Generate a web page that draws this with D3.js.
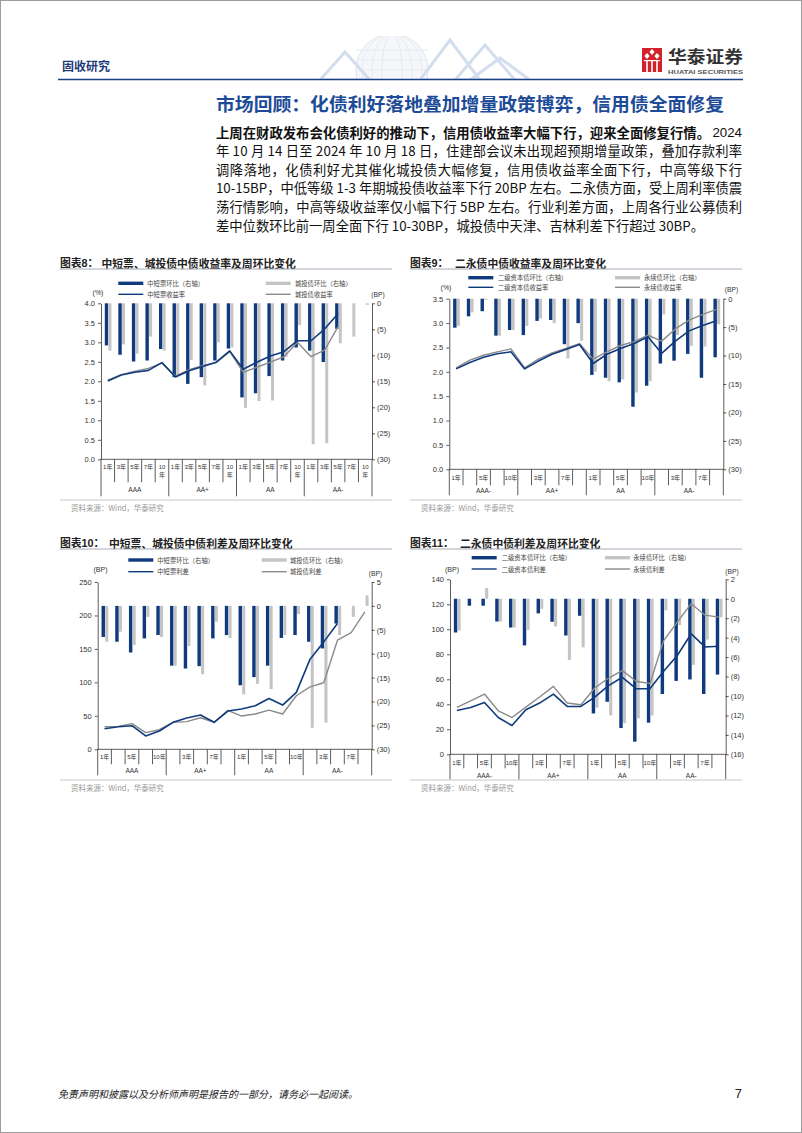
<!DOCTYPE html>
<html><head><meta charset="utf-8">
<script src="https://cdn.jsdelivr.net/npm/d3@7"></script>
<style>body{margin:0;background:#fff}svg{display:block}</style>
</head><body>
<svg id="page" width="802" height="1133"></svg>
<script>
// ---------------- DATA ----------------
const tenors = ["1年","3年","5年","7年","10年"];
const groups8 = ["AAA","AA+","AA","AA-"];
const groups9 = ["AAA-","AA+","AA","AA-"];
const groups10 = ["AAA","AA+","AA","AA-"];
const groups11 = ["AAA-","AA+","AA","AA-"];

// Chart 8: 中短票、城投债中债收益率(%) 及周环比(BP)
const c8_mtnChg   = [-8.1,-9.9,-11.2,-11.0,-8.8, -14.2,-15.5,-14.2,-11.0,-8.7, -18.1,-17.3,-14.0,-11.0,-8.5, -9.1,-11.3,-4.9,null,null];
const c8_ctChg    = [-9.1,-7.9,-9.7,-6.4,-9.1, -13.8,-10.9,-15.8,-7.5,-8.5, -20.1,-18.8,-18.7,-10.3,-4.2, -27.1,-26.9,-7.7,-6.4,-0.3];
const c8_mtnYield = [2.01,2.16,2.23,2.28,2.48, 2.11,2.27,2.38,2.49,2.78, 2.31,2.49,2.65,2.76,3.04, 3.04,3.34,3.74,null,null];
const c8_ctYield  = [2.03,2.17,2.26,2.33,2.47, 2.13,2.30,2.40,2.48,2.76, 2.23,2.36,2.49,2.63,3.00, 2.63,2.80,3.40,null,null];

// Chart 9: 二永债中债收益率(%) 及周环比(BP)
const c9_capChg   = [-5.1,-3.1,-2.2,-6.5,-5.5, -6.4,-3.9,-3.75,-8.0,-4.3, -13.4,-13.9,-14.7,-19.0,-15.3, -11.4,-10.9,-9.7,-13.9,-10.3];
const c9_perpChg  = [-4.8,-2.4,-0.2,-6.5,-5.5, -4.8,-3.5,-4.3,-10.5,-7.4, -12.8,-14.5,-14.2,-16.5,-14.5, -2.75,-6.4,-8.3,-8.4,-4.5];
const c9_capYield = [2.06,2.19,2.30,2.37,2.41, 2.06,2.22,2.36,2.46,2.56, 2.17,2.36,2.48,2.58,2.72, 2.38,2.63,2.84,2.95,3.05];
const c9_perpYield= [2.08,2.24,2.34,2.41,2.47, 2.08,2.26,2.39,2.48,2.58, 2.26,2.41,2.54,2.62,2.75, 2.63,2.88,3.06,3.18,3.28];

// Chart 10: 中短票、城投债中债利差(BP) 及周环比(BP)
const c10_mtnChg    = [-6.5,-7.5,-9.75,-6.8,-6.1, -12.5,-13.1,-12.6,-6.8,-6.1, -16.6,-14.9,-12.5,-6.7,-6.1, -7.5,-8.9,-3.7,null,null];
const c10_ctChg     = [-7.5,-5.4,-8.2,-2.3,-6.5, -12.5,-8.4,-14.3,-3.3,-6.7, -18.5,-16.3,-17.4,-6.1,-1.7, -25.5,-24.4,-6.1,-2.3,2.2];
const c10_mtnSpread = [30.8,33.8,35.3,19.9,27.3, 40.3,46.7,51.2,40.3,57.2, 60.1,65.1,76.0,66.1,85.0, 134.7,160.5,187.9,null,null];
const c10_ctSpread  = [33.8,34.3,38.3,24.9,29.3, 40.3,41.3,47.2,40.3,58.2, 49.7,52.7,58.6,52.7,80.0, 93.4,99.4,163.0,174.5,205.3];

// Chart 11: 二永债中债利差(BP) 及周环比(BP)
const c11_capChg     = [-3.47,-0.72,-0.72,-2.34,-2.96, -4.8,-1.5,-2.37,-3.78,-1.75, -11.8,-10.6,-13.3,-14.7,-12.75, -9.8,-8.45,-8.3,-9.8,-7.8];
const c11_perpChg    = [-3.26,0,1.1,-2.34,-2.96, -3.2,-1.03,-2.85,-6.3,-5.0, -11.2,-12.0,-12.8,-12.3,-12.0, -1.2,-2.7,-6.8,-4.2,-1.9];
const c11_capSpread  = [35.1,37.5,41.5,29.4,23.0, 35.6,41.0,48.2,38.3,38.3, 45.8,54.9,61.6,52.5,52.5, 66.4,79.2,96.4,85.9,86.4];
const c11_perpSpread = [37.5,42.8,48.2,34.8,29.4, 37.7,45.8,54.3,41.0,39.6, 53.0,61.0,66.9,58.4,56.5, 91.0,106.0,120.5,111.3,109.7];

// Tick labels
const ticks8L = [0,0.5,1,1.5,2,2.5,3,3.5,4];
const ticks8R = [0,-5,-10,-15,-20,-25,-30];
const ticks9L = [0,0.5,1,1.5,2,2.5,3,3.5];
const ticks9R = [0,-5,-10,-15,-20,-25,-30];
const ticks10L = [0,50,100,150,200,250];
const ticks10R = [5,0,-5,-10,-15,-20,-25,-30];
const ticks11L = [0,20,40,60,80,100,120,140];
const ticks11R = [2,0,-2,-4,-6,-8,-10,-12,-14,-16];

// ---------------- STYLE ----------------
const svg = d3.select("#page");
const LAT = "'Liberation Sans', Arial, 'Noto Sans CJK SC', sans-serif";
const CJK = "'Noto Sans CJK SC', 'Liberation Sans', sans-serif";
const NAVY = "#0f3b7e", GRAYBAR = "#c4c4c4", GRAYLINE = "#8a8a8a", AXIS = "#333";
const fmtParen = v => v < 0 ? "(" + (-v) + ")" : String(v);

// page frame
svg.append("rect").attr("x",0.5).attr("y",0.5).attr("width",801).attr("height",1132)
  .attr("fill","#fff").attr("stroke","#9c9c9c");

// ---------------- HEADER ----------------
const deco = svg.append("g").attr("opacity",0.55);
deco.append("clipPath").attr("id","decoClip").append("rect").attr("x",300).attr("y",36).attr("width",230).attr("height",43);
const dg = deco.append("g").attr("clip-path","url(#decoClip)");
dg.append("circle").attr("cx",392).attr("cy",70).attr("r",36).attr("fill","#eef2f7").attr("stroke","#c5cfdc");
[10,20,30].forEach(r => dg.append("ellipse").attr("cx",392).attr("cy",70).attr("rx",r).attr("ry",36).attr("fill","none").attr("stroke","#d3dbe6"));
[50,60,70].forEach(yy => dg.append("line").attr("x1",356).attr("x2",428).attr("y1",yy).attr("y2",yy).attr("stroke","#d3dbe6"));
const tri = [[[320,80],[345,52],[370,80]],[[420,80],[450,40],[480,80]],[[455,80],[485,45],[515,80]],[[470,80],[500,58],[530,80]]];
tri.forEach(t => dg.append("polygon").attr("points",t.map(p=>p.join(",")).join(" ")).attr("fill","none").attr("stroke","#aec3e0").attr("stroke-width",3));

svg.append("text").attr("x",62).attr("y",65).attr("dominant-baseline","central")
  .attr("font-family",CJK).attr("font-weight","bold").attr("font-size",12).attr("fill","#1f3a78").text("固收研究");
svg.append("line").attr("x1",58).attr("x2",743).attr("y1",79.5).attr("y2",79.5).attr("stroke","#1c3f86").attr("stroke-width",1.6);

// logo
const logo = svg.append("g");
logo.append("rect").attr("x",642).attr("y",48).attr("width",20).attr("height",24).attr("fill","#d3232a");
[[647,56],[652,52],[657,56]].forEach(([cx,cy]) => {
  logo.append("polygon").attr("points",`${cx},${cy-3} ${cx+2.6},${cy} ${cx},${cy+3} ${cx-2.6},${cy}`).attr("fill","#fff");
});
[646.2,651.2,656.2].forEach(xx => logo.append("rect").attr("x",xx).attr("y",61).attr("width",1.6).attr("height",11).attr("fill","#fff"));
logo.append("rect").attr("x",644).attr("y",60).attr("width",16).attr("height",1.2).attr("fill","#fff");
logo.append("text").attr("x",668).attr("y",55.5).attr("dominant-baseline","central").attr("font-family",CJK)
  .attr("font-weight","bold").attr("font-size",16.5).attr("fill","#333").attr("textLength",75).attr("lengthAdjust","spacingAndGlyphs").text("华泰证券");
logo.append("text").attr("x",668).attr("y",71.5).attr("dominant-baseline","central").attr("font-family",LAT)
  .attr("font-weight","bold").attr("font-size",5.8).attr("fill","#555").attr("textLength",75).attr("lengthAdjust","spacingAndGlyphs").text("HUATAI SECURITIES");

// heading
svg.append("text").attr("x",216).attr("y",103).attr("dominant-baseline","central").attr("font-family",CJK)
  .attr("font-weight","bold").attr("font-size",18).attr("fill","#1d4b97").attr("textLength",508).attr("lengthAdjust","spacingAndGlyphs")
  .text("市场回顾：化债利好落地叠加增量政策博弈，信用债全面修复");

// paragraph
const paraLines = [
  "年 10 月 14 日至 2024 年 10 月 18 日，住建部会议未出现超预期增量政策，叠加存款利率",
  "调降落地，化债利好尤其催化城投债大幅修复，信用债收益率全面下行，中高等级下行",
  "10-15BP，中低等级 1-3 年期城投债收益率下行 20BP 左右。二永债方面，受上周利率债震",
  "荡行情影响，中高等级收益率仅小幅下行 5BP 左右。行业利差方面，上周各行业公募债利",
  "差中位数环比前一周全面下行 10-30BP，城投债中天津、吉林利差下行超过 30BP。"
];
const para = svg.append("g").attr("font-family",CJK).attr("font-size",13.3).attr("fill","#111");
para.append("text").attr("x",216).attr("y",132).attr("dominant-baseline","central").attr("font-weight","bold")
  .attr("textLength",494).attr("lengthAdjust","spacingAndGlyphs")
  .text("上周在财政发布会化债利好的推动下，信用债收益率大幅下行，迎来全面修复行情。");
para.append("text").attr("x",742).attr("y",132).attr("dominant-baseline","central").attr("text-anchor","end")
  .attr("font-family",LAT).text("2024");
paraLines.forEach((s,i) => {
  const t = para.append("text").attr("x",216).attr("y",132 + 18.6*(i+1)).attr("dominant-baseline","central").text(s);
  if (i < paraLines.length-1) t.attr("textLength",526).attr("lengthAdjust","spacing");
});

// footer
svg.append("text").attr("x",58).attr("y",1093).attr("dominant-baseline","central").attr("font-family",CJK)
  .attr("font-size",10).attr("font-style","italic").attr("fill","#222").text("免责声明和披露以及分析师声明是报告的一部分，请务必一起阅读。");
svg.append("text").attr("x",742).attr("y",1093).attr("dominant-baseline","central").attr("text-anchor","end")
  .attr("font-family",LAT).attr("font-size",13).attr("fill","#222").text("7");

// ---------------- CHART FUNCTION ----------------
function drawChart(cfg) {
  const g = svg.append("g");
  const cats = [];
  cfg.groups.forEach(gr => tenors.forEach(t => cats.push(gr + "|" + t)));
  const x = d3.scaleBand().domain(cats).range([cfg.x0, cfg.x1]);
  const bw = x.bandwidth();
  const yL = d3.scaleLinear().domain(cfg.leftDomain).range([cfg.yB, cfg.yT]);
  const yR = d3.scaleLinear().domain(cfg.rightDomain).range([cfg.yB, cfg.yT]);

  // title + frame lines
  g.append("text").attr("x",cfg.tx).attr("y",cfg.ty).attr("dominant-baseline","central").attr("font-family",LAT)
    .attr("font-weight","bold").attr("font-size",10.8).attr("fill","#222").text(cfg.titleNo);
  g.append("text").attr("x",cfg.tx2).attr("y",cfg.ty).attr("dominant-baseline","central").attr("font-family",CJK)
    .attr("font-weight","bold").attr("font-size",10.8).attr("fill","#222").text(cfg.title);
  g.append("line").attr("x1",cfg.tx).attr("x2",cfg.tx+332).attr("y1",cfg.ty+6.5).attr("y2",cfg.ty+6.5).attr("stroke","#a6adb8").attr("stroke-width",1);
  g.append("line").attr("x1",cfg.tx).attr("x2",cfg.tx+332).attr("y1",cfg.lineB).attr("y2",cfg.lineB).attr("stroke","#c4c8cf").attr("stroke-width",1);
  g.append("text").attr("x",cfg.tx+11).attr("y",cfg.lineB+7.5).attr("dominant-baseline","central").attr("font-family",CJK)
    .attr("font-size",7.5).attr("fill","#999").text("资料来源：Wind，华泰研究");

  // bars
  const barSets = [
    {vals: cfg.bar1, color: NAVY, off: 0.28, w: 0.25},
    {vals: cfg.bar2, color: GRAYBAR, off: 0.55, w: 0.22}
  ];
  barSets.forEach(bs => {
    g.append("g").selectAll("rect")
      .data(cats.map((c,i) => ({c, v: bs.vals[i]})).filter(d => d.v != null && d.v !== 0))
      .join("rect")
      .attr("x", d => x(d.c) + bw*bs.off).attr("width", bw*bs.w)
      .attr("y", d => Math.min(yR(0), yR(d.v))).attr("height", d => Math.abs(yR(d.v) - yR(0)))
      .attr("fill", bs.color);
  });

  // lines
  const line = d3.line().defined(d => d.v != null).x(d => x(d.c) + bw/2).y(d => yL(d.v));
  [{vals: cfg.line2, color: GRAYLINE, w: 1.4}, {vals: cfg.line1, color: NAVY, w: 1.6}].forEach(ls => {
    g.append("path").datum(cats.map((c,i) => ({c, v: ls.vals[i]})))
      .attr("d", line).attr("fill","none").attr("stroke", ls.color).attr("stroke-width", ls.w).attr("stroke-linejoin","round");
  });

  // axes
  const styleAxis = sel => {
    sel.selectAll("path.domain").attr("stroke", AXIS).attr("stroke-width", 0.8);
    sel.selectAll(".tick line").attr("stroke", AXIS).attr("stroke-width", 0.8);
    sel.selectAll(".tick text").attr("font-family", LAT).attr("font-size", 7.5).attr("fill", "#333");
  };
  g.append("g").attr("transform", `translate(${cfg.x0},0)`)
    .call(d3.axisLeft(yL).tickValues(cfg.leftTicks).tickFormat(cfg.leftFmt).tickSize(3).tickSizeOuter(0).tickPadding(3))
    .call(styleAxis);
  g.append("g").attr("transform", `translate(${cfg.x1},0)`)
    .call(d3.axisRight(yR).tickValues(cfg.rightTicks).tickFormat(fmtParen).tickSize(3).tickSizeOuter(0).tickPadding(2))
    .call(styleAxis);

  // category axis
  g.append("line").attr("x1",cfg.x0).attr("x2",cfg.x1).attr("y1",cfg.yB).attr("y2",cfg.yB).attr("stroke",AXIS).attr("stroke-width",0.8);
  d3.range(cats.length + 1).forEach(i => {
    const xx = cfg.x0 + i * x.step();
    const len = (i % tenors.length === 0) ? cfg.gLen : cfg.tLen;
    g.append("line").attr("x1",xx).attr("x2",xx).attr("y1",cfg.yB).attr("y2",cfg.yB+len).attr("stroke",AXIS).attr("stroke-width",0.8);
  });
  cats.forEach((c,i) => {
    if (i % cfg.labelEvery !== 0) return;
    const lab = c.split("|")[1];
    const cx = x(c) + bw/2;
    const t = g.append("text").attr("x",cx).attr("y",cfg.labY).attr("dominant-baseline","central").attr("text-anchor","middle")
      .attr("font-family",LAT).attr("font-size",6).attr("fill","#333");
    if (cfg.wrap10 && lab === "10年") {
      t.append("tspan").attr("x",cx).attr("dy",0).text("10");
      t.append("tspan").attr("x",cx).attr("dy",8.5).text("年");
    } else t.text(lab);
  });
  cfg.groups.forEach((gr,k) => {
    const a = x(gr + "|" + tenors[0]), b = x(gr + "|" + tenors[tenors.length-1]) + bw;
    g.append("text").attr("x",(a+b)/2).attr("y",cfg.grpY).attr("dominant-baseline","central").attr("text-anchor","middle")
      .attr("font-family",LAT).attr("font-size",6.5).attr("fill","#333").text(gr);
  });

  // units
  g.append("text").attr("x",cfg.unitL[0]).attr("y",cfg.unitL[1]).attr("dominant-baseline","central").attr("text-anchor","middle")
    .attr("font-family",LAT).attr("font-size",7).attr("fill","#333").text(cfg.unitL[2]);
  g.append("text").attr("x",cfg.unitR[0]).attr("y",cfg.unitR[1]).attr("dominant-baseline","central").attr("text-anchor","middle")
    .attr("font-family",LAT).attr("font-size",6.7).attr("fill","#333").text(cfg.unitR[2]);

  // legend
  cfg.legend.forEach(it => {
    if (it.type === "bar") {
      g.append("rect").attr("x",it.x).attr("y",it.y-1.7).attr("width",25).attr("height",3.4).attr("fill",it.color);
    } else {
      g.append("line").attr("x1",it.x).attr("x2",it.x+25).attr("y1",it.y).attr("y2",it.y).attr("stroke",it.color).attr("stroke-width",1.4);
    }
    g.append("text").attr("x",it.tx).attr("y",it.y).attr("dominant-baseline","central").attr("font-family",CJK)
      .attr("font-size",6.3).attr("fill","#444").text(it.text);
  });
}

// ---------------- CHARTS ----------------
drawChart({
  titleNo: "图表8：", title: "中短票、城投债中债收益率及周环比变化", tx: 60, tx2: 101.5, ty: 262.5, lineB: 500,
  groups: groups8, x0: 101, x1: 372, yT: 303.3, yB: 459.3,
  leftDomain: [0,4], leftTicks: ticks8L, leftFmt: d3.format(".1f"),
  rightDomain: [-30,0], rightTicks: ticks8R,
  bar1: c8_mtnChg, bar2: c8_ctChg, line1: c8_mtnYield, line2: c8_ctYield,
  labelEvery: 1, wrap10: true, labY: 466.5, tLen: 23, grpY: 489, gLen: 37,
  unitL: [98, 292.5, "(%)"], unitR: [378, 294.3, "(BP)"],
  legend: [
    {type:"bar", color:NAVY, x:118.3, tx:147.3, y:283.3, text:"中短票环比（右轴）"},
    {type:"line", color:NAVY, x:118.3, tx:147.3, y:294.3, text:"中短票收益率"},
    {type:"bar", color:GRAYBAR, x:265.7, tx:295, y:283.3, text:"城投债环比（右轴）"},
    {type:"line", color:GRAYLINE, x:265.7, tx:295, y:294.3, text:"城投债收益率"}
  ]
});

drawChart({
  titleNo: "图表9：", title: "二永债中债收益率及周环比变化", tx: 410, tx2: 455, ty: 262.5, lineB: 500,
  groups: groups9, x0: 449.3, x1: 723.3, yT: 298.7, yB: 469.3,
  leftDomain: [0,3.5], leftTicks: ticks9L, leftFmt: d3.format(".1f"),
  rightDomain: [-30,0], rightTicks: ticks9R,
  bar1: c9_capChg, bar2: c9_perpChg, line1: c9_capYield, line2: c9_perpYield,
  labelEvery: 2, wrap10: false, labY: 477.7, tLen: 16, grpY: 490, gLen: 26,
  unitL: [446, 287, "(%)"], unitR: [731.5, 289, "(BP)"],
  legend: [
    {type:"bar", color:NAVY, x:468.3, tx:498, y:277.7, text:"二级资本债环比（右轴）"},
    {type:"line", color:NAVY, x:468.3, tx:498, y:287.3, text:"二级资本债收益率"},
    {type:"bar", color:GRAYBAR, x:615, tx:644, y:277.7, text:"永续债环比（右轴）"},
    {type:"line", color:GRAYLINE, x:615, tx:644, y:287.3, text:"永续债收益率"}
  ]
});

drawChart({
  titleNo: "图表10：", title: "中短票、城投债中债利差及周环比变化", tx: 60, tx2: 109, ty: 542.5, lineB: 780,
  groups: groups10, x0: 97.7, x1: 371.7, yT: 582, yB: 749.3,
  leftDomain: [0,250], leftTicks: ticks10L, leftFmt: d3.format("d"),
  rightDomain: [-30,5], rightTicks: ticks10R,
  bar1: c10_mtnChg, bar2: c10_ctChg, line1: c10_mtnSpread, line2: c10_ctSpread,
  labelEvery: 2, wrap10: false, labY: 756.7, tLen: 15, grpY: 770.7, gLen: 26,
  unitL: [100.5, 569.3, "(BP)"], unitR: [375.5, 573.3, "(BP)"],
  legend: [
    {type:"bar", color:NAVY, x:128.3, tx:157.3, y:560, text:"中短票环比（右轴）"},
    {type:"line", color:NAVY, x:128.3, tx:157.3, y:571.7, text:"中短票利差"},
    {type:"bar", color:GRAYBAR, x:261.7, tx:290, y:560, text:"城投债环比（右轴）"},
    {type:"line", color:GRAYLINE, x:261.7, tx:290, y:571.7, text:"城投债利差"}
  ]
});

drawChart({
  titleNo: "图表11：", title: "二永债中债利差及周环比变化", tx: 410, tx2: 460, ty: 542.5, lineB: 780,
  groups: groups11, x0: 450, x1: 725.7, yT: 579.3, yB: 754.3,
  leftDomain: [0,140], leftTicks: ticks11L, leftFmt: d3.format("d"),
  rightDomain: [-16,2], rightTicks: ticks11R,
  bar1: c11_capChg, bar2: c11_perpChg, line1: c11_capSpread, line2: c11_perpSpread,
  labelEvery: 2, wrap10: false, labY: 762.7, tLen: 14, grpY: 775, gLen: 25,
  unitL: [452, 569.3, "(BP)"], unitR: [732, 571, "(BP)"],
  legend: [
    {type:"bar", color:NAVY, x:471.7, tx:501.7, y:557.7, text:"二级资本债环比（右轴）"},
    {type:"line", color:NAVY, x:471.7, tx:501.7, y:569, text:"二级资本债利差"},
    {type:"bar", color:GRAYBAR, x:605, tx:633.3, y:557.7, text:"永续债环比（右轴）"},
    {type:"line", color:GRAYLINE, x:605, tx:633.3, y:569, text:"永续债利差"}
  ]
});
</script>
</body></html>
